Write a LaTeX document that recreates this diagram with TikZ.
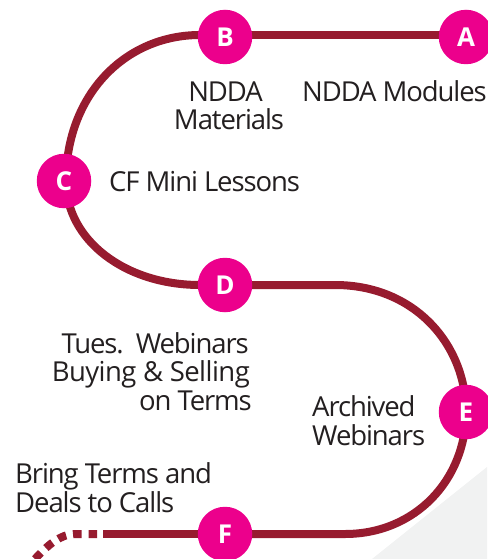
\documentclass[tikz,border=0pt]{standalone}
\usepackage{fontspec}
\setmainfont{Open Sans}
\definecolor{road}{HTML}{971B2F}
\definecolor{dot}{HTML}{EC008C}
\definecolor{ink}{HTML}{231F20}
\definecolor{pale}{HTML}{F1F2F2}
\tikzset{
 stopdot/.style={circle,fill=dot,draw=none,minimum size=54.5pt,inner sep=0pt,text=white,font=\fontsize{26}{26}\selectfont\bfseries},
 lab/.style={text=ink,inner sep=0pt,font=\fontsize{27.5}{29}\selectfont\addfontfeatures{LetterSpace=-4}},
 roadline/.style={draw=road,line width=8pt}
}
\begin{document}
\begin{tikzpicture}[x=1pt,y=-1pt]
\useasboundingbox (0,0) rectangle (487,559);
\fill[pale] (372,559) -- (487,467) -- (487,559) -- cycle;
\coordinate (Ap) at (466,35);
\coordinate (Bp) at (225,35);
\coordinate (Cp) at (66,181);
\coordinate (Dp) at (225,285);
\coordinate (Ep) at (466,412);
\coordinate (Fp) at (225,534);
\coordinate (T) at (97,534);
\coordinate (G) at (35,559);
\draw[roadline] (Ap) -- (Bp);
\draw[roadline] (Bp) -- (200,35) .. controls (125,35) and (66,95) .. (Cp);
\draw[roadline] (Cp) .. controls (66,240) and (125,285) .. (200,285) -- (Dp);
\draw[roadline] (Dp) -- (335,285) .. controls (415,285) and (466,345) .. (Ep);
\draw[roadline] (Ep) .. controls (466,480) and (415,534) .. (345,534) -- (Fp);
\draw[roadline] (Fp) -- (103,534);
\draw[draw=road,line width=8pt,dash pattern=on 8.5pt off 7pt] (T) -- (75,534) .. controls (60,534) and (47,546) .. (G);
\node[stopdot] (A) at (466,37) {A};
\node[stopdot] (B) at (225,37) {B};
\node[stopdot] (C) at (64,181) {C};
\node[stopdot] (D) at (225,285) {D};
\node[stopdot] (E) at (466,412) {E};
\node[stopdot] (F) at (225,534) {F};
\node[lab,anchor=base west] (t1) at (302,102) {NDDA Modules};
\node[lab,anchor=base] (t2a) at (225.5,102) {NDDA};
\node[lab,anchor=base] (t2b) at (229,129) {Materials};
\node[lab,anchor=base west] (t3) at (109,191) {CF Mini Lessons};
\node[lab,anchor=base east] (t4a) at (249,353) {Tues.\ \ Webinars};
\node[lab,anchor=base east,font=\fontsize{27.5}{29}\selectfont\addfontfeatures{LetterSpace=-2}] (t4b) at (250,381) {Buying \& Selling};
\node[lab,anchor=base east] (t4c) at (252,410) {on Terms};
\node[lab,anchor=base west] (t5a) at (312,416) {Archived};
\node[lab,anchor=base west] (t5b) at (312,445) {Webinars};
\node[lab,anchor=base west] (t6a) at (15,483) {Bring Terms and};
\node[lab,anchor=base west] (t6b) at (15,512) {Deals to Calls};
\end{tikzpicture}
\end{document}
